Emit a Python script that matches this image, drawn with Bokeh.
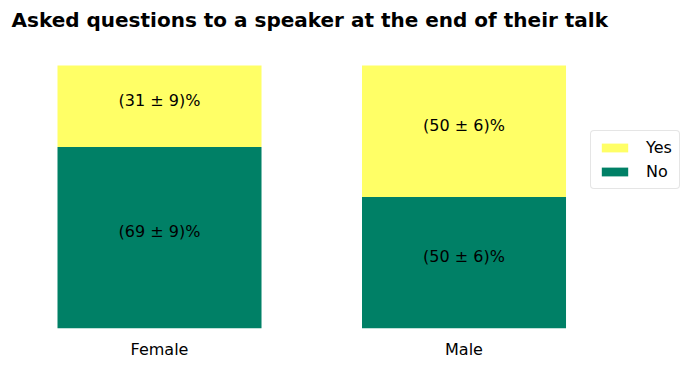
from bokeh.plotting import figure
from bokeh.models import ColumnDataSource, Range1d, FixedTicker, Legend, LegendItem
from bokeh.core.properties import value
from bokeh.embed import file_html
from bokeh.resources import INLINE

categories = ["Female", "Male"]
no_pct = [69, 50]
yes_pct = [31, 50]
no_err = [9, 6]
yes_err = [9, 6]

xpos = list(range(len(categories)))
no_frac = [v / 100 for v in no_pct]
yes_frac = [v / 100 for v in yes_pct]

src = ColumnDataSource(dict(
    x=xpos,
    No=no_frac,
    Yes=yes_frac,
))

FONT = "DejaVu Sans"

p = figure(width=691, height=371, output_backend="svg", toolbar_location=None,
           x_range=Range1d(-0.5222, 1.7471), y_range=Range1d(0, 1.11),
           min_border_left=0, min_border_right=0, min_border_top=0, min_border_bottom=43)

p.title.text = "Asked questions to a speaker at the end of their talk"
p.title.text_font = FONT
p.title.text_font_style = "bold"
p.title.text_font_size = "20px"
p.title.text_color = "black"
p.title.align = "left"
p.title.offset = 11

colors = ["#008066", "#ffff66"]
rs = p.vbar_stack(["No", "Yes"], x="x", width=0.67, color=colors, line_color=None, source=src)

# value labels
lx, ly, lt = [], [], []
for i in xpos:
    lx.append(i); ly.append(no_frac[i] / 2); lt.append(f"({no_pct[i]} ± {no_err[i]})%")
    lx.append(i); ly.append(no_frac[i] + yes_frac[i] / 2); lt.append(f"({yes_pct[i]} ± {yes_err[i]})%")
tsrc = ColumnDataSource(dict(x=lx, y=ly, t=lt))
p.text(x="x", y="y", text="t", source=tsrc, text_align="center", text_baseline="middle",
       text_font=value(FONT), text_font_size="16px", text_color="black", y_offset=-6)

legend = Legend(items=[LegendItem(label="Yes", renderers=[rs[1]]),
                       LegendItem(label="No", renderers=[rs[0]])],
                location=(590, 139), orientation="vertical",
                label_text_font=FONT, label_text_font_size="16px", label_text_color="black",
                glyph_width=33, glyph_height=11, label_standoff=15,
                padding=7, spacing=5, margin=0,
                border_line_color="#cccccc", border_line_width=1, border_radius=4,
                background_fill_color="white", background_fill_alpha=0.8)
p.add_layout(legend, "center")

p.yaxis.visible = False
p.xaxis.ticker = FixedTicker(ticks=xpos)
p.xaxis.major_label_overrides = {i: c for i, c in zip(xpos, categories)}
p.xaxis.axis_line_color = None
p.xaxis.major_tick_line_color = None
p.xaxis.minor_tick_line_color = None
p.xaxis.major_tick_out = 0
p.xaxis.major_tick_in = 0
p.xaxis.major_label_standoff = 11
p.xaxis.major_label_text_font = FONT
p.xaxis.major_label_text_font_size = "16px"
p.xaxis.major_label_text_color = "black"
p.xgrid.visible = False
p.ygrid.visible = False
p.outline_line_color = None

open("out.html", "w").write(file_html(p, INLINE))
